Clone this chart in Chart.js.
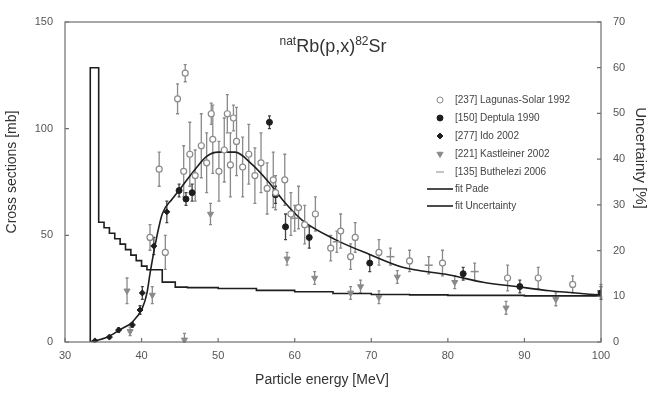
<!DOCTYPE html>
<html>
<head>
<meta charset="utf-8">
<script src="https://cdn.jsdelivr.net/npm/chart.js@4.4.1/dist/chart.umd.min.js"></script>
<style>
  html, body { margin: 0; padding: 0; background: #fff; }
  #wrap { width: 648px; height: 394px; }
</style>
</head>
<body>
<div id="wrap"><canvas id="chart" width="648" height="394"></canvas></div>
<script>
// measured points: energy [MeV], cross section [mb], error [mb]
const lagunasE = [41.1, 42.3, 43.1, 44.7, 45.7, 45.5, 46.3, 47.0, 47.8, 48.5, 49.1, 49.3, 50.1, 50.8, 51.2, 51.6, 52.0, 52.4, 53.2, 54.0, 54.8, 55.6, 56.4, 57.2, 57.5, 58.7, 59.5, 60.5, 61.3, 62.7, 64.7, 66.0, 67.3, 67.9, 71.0, 75.0, 79.3, 87.8, 91.8, 96.3];
const lagunasV = [49, 81, 42, 114, 126, 80, 88, 78, 92, 84, 107, 95, 80, 90, 107, 83, 105, 94, 82, 88, 78, 84, 72, 76, 70, 76, 60, 63, 55, 60, 44, 52, 40, 49, 42, 38, 37, 30, 30, 27];
const lagunasErr = [6, 8, 8, 7, 4, 12, 15, 12, 15, 14, 5, 16, 14, 15, 9, 15, 6, 16, 14, 14, 13, 14, 12, 13, 8, 12, 10, 10, 9, 8, 6, 8, 6, 7, 6, 5, 6, 6, 5, 4];

const deptulaE = [44.9, 45.8, 46.6, 56.7, 57.5, 58.8, 61.9, 69.8, 82.0, 89.4, 100];
const deptulaV = [71, 67, 70, 103, 69, 54, 49, 37, 32, 26, 23];
const deptulaErr = [3, 3, 4, 3, 4, 6, 5, 4, 3, 3, 3];

const idoE = [33.9, 35.8, 37.0, 38.8, 39.8, 40.1, 41.6, 43.3];
const idoV = [0.5, 2.3, 5.6, 8, 15, 23, 45, 61];
const idoErr = [0.5, 0.5, 1, 1, 2, 3, 4, 5];

const kastleinerE = [38.1, 38.5, 41.4, 45.6, 49.0, 59.0, 62.6, 67.3, 68.6, 71.0, 73.4, 80.9, 87.6, 94.1];
const kastleinerV = [24, 5, 22, 1, 60, 39, 30, 23, 26, 21, 30.5, 28, 16, 20];
const kastleinerErr = [6, 2, 4, 3, 5, 3, 3, 3, 3, 3, 3, 3, 3, 3];

const butheleziE = [60.0, 65.5, 72.5, 77.5, 83.5, 100];
const butheleziV = [58, 47, 40, 36, 33, 24];
const butheleziErr = [6, 5, 4, 4, 4, 3];

// Pade fit [mb]
const padeE = [33.3, 35.5, 37.1, 38.8, 40.1, 40.7, 41.1, 41.8, 42.7, 44.0, 45.3, 47.0, 48.5, 50.0, 52.2, 54.5, 56.7, 58.8, 61.0, 65.3, 69.8, 74.1, 80.2, 84.6, 88.9, 93.3, 100];
const padeV = [0, 2.2, 5.6, 9.4, 15.9, 22.9, 32, 46, 60, 67, 73, 81, 87, 89, 89, 83, 74.5, 65, 57, 48, 41, 35, 31.4, 28, 26, 24, 22];

// fit uncertainty [%], step histogram
const uncE = [33.3, 33.3, 34.4, 35.1, 35.8, 36.5, 37.2, 37.9, 38.6, 39.3, 40.0, 40.7, 42.7, 44.4, 46, 50, 55, 60, 65, 70, 75, 80, 90, 100];
const uncV = [0, 60, 26.2, 25.0, 23.8, 22.6, 21.4, 20.2, 19.0, 17.8, 16.6, 15.8, 13.1, 12.0, 11.9, 11.7, 11.3, 11.0, 10.6, 10.4, 10.3, 10.2, 10.1, 10.0];

const xTicks = [30, 40, 50, 60, 70, 80, 90, 100];

const pts = (xs, ys) => xs.map((x, i) => ({ x: x, y: ys[i] }));
const GRAY = '#8a8a8a';
const DARK = '#1e1e1e';
const FAMILY = '"Liberation Sans", Arial, sans-serif';

const errorBars = {
  id: 'errorBars',
  beforeDatasetsDraw(chart) {
    const ctx = chart.ctx;
    ctx.save();
    chart.data.datasets.forEach((ds, i) => {
      if (!ds.errors) return;
      const meta = chart.getDatasetMeta(i);
      const ys = chart.scales[ds.yAxisID || 'y'];
      ctx.strokeStyle = ds.errorColor || GRAY;
      ctx.lineWidth = 1.3;
      meta.data.forEach((el, j) => {
        const v = ds.data[j].y, e = ds.errors[j];
        const top = ys.getPixelForValue(v + e);
        const bot = ys.getPixelForValue(Math.max(0, v - e));
        ctx.beginPath();
        ctx.moveTo(el.x, top); ctx.lineTo(el.x, bot);
        ctx.moveTo(el.x - 1.5, top); ctx.lineTo(el.x + 1.5, top);
        ctx.moveTo(el.x - 1.5, bot); ctx.lineTo(el.x + 1.5, bot);
        ctx.stroke();
      });
    });
    ctx.restore();
  }
};

const frame = {
  id: 'frame',
  afterDraw(chart) {
    const ctx = chart.ctx, a = chart.chartArea;
    ctx.save();
    ctx.strokeStyle = '#6f6f6f';
    ctx.lineWidth = 1.2;
    ctx.strokeRect(a.left, a.top, a.right - a.left, a.bottom - a.top);
    ctx.beginPath();
    chart.scales.y2.ticks.forEach(t => {
      const y = chart.scales.y2.getPixelForValue(t.value);
      ctx.moveTo(a.right, y); ctx.lineTo(a.right - 4, y);
    });
    chart.scales.y.ticks.forEach(t => {
      const y = chart.scales.y.getPixelForValue(t.value);
      ctx.moveTo(a.left, y); ctx.lineTo(a.left + 4, y);
    });
    chart.scales.x.ticks.forEach(t => {
      const x = chart.scales.x.getPixelForValue(t.value);
      ctx.moveTo(x, a.bottom); ctx.lineTo(x, a.bottom - 4);
    });
    ctx.stroke();

    // axis titles
    ctx.fillStyle = '#333';
    ctx.font = '14px ' + FAMILY;
    ctx.textAlign = 'center';
    ctx.textBaseline = 'middle';
    ctx.fillText('Particle energy [MeV]', 322, 380);
    ctx.save();
    ctx.translate(12, 172);
    ctx.rotate(-Math.PI / 2);
    ctx.fillText('Cross sections [mb]', 0, 0);
    ctx.restore();
    ctx.save();
    ctx.translate(640, 158);
    ctx.rotate(Math.PI / 2);
    ctx.font = '15px ' + FAMILY;
    ctx.fillText('Uncertainty [%]', 0, 0);
    ctx.restore();
    ctx.restore();
  }
};

const titleText = {
  id: 'titleText',
  afterDraw(chart) {
    const ctx = chart.ctx;
    const parts = [['nat', true], ['Rb(p,x)', false], ['82', true], ['Sr', false]];
    const big = '18px ' + FAMILY;
    const small = '12px ' + FAMILY;
    ctx.save();
    ctx.fillStyle = '#333';
    ctx.textBaseline = 'alphabetic';
    let w = 0;
    parts.forEach(p => { ctx.font = p[1] ? small : big; w += ctx.measureText(p[0]).width; });
    let x = 333 - w / 2;
    const base = 52;
    parts.forEach(p => {
      ctx.font = p[1] ? small : big;
      ctx.fillText(p[0], x, p[1] ? base - 7 : base);
      x += ctx.measureText(p[0]).width;
    });
    ctx.restore();
  }
};

const insideLegend = {
  id: 'insideLegend',
  afterDraw(chart) {
    const ctx = chart.ctx, a = chart.chartArea;
    const mx = a.right - 161, tx = a.right - 146;
    const rows = [78, 96, 114, 132, 150, 167, 184];
    ctx.save();
    ctx.font = '10px ' + FAMILY;
    ctx.textBaseline = 'middle';
    chart.data.datasets.forEach((ds, i) => {
      const y = a.top + rows[i];
      ctx.strokeStyle = ds.borderColor;
      ctx.fillStyle = ds.backgroundColor;
      if (ds.showLine) {
        ctx.lineWidth = ds.borderWidth;
        ctx.beginPath(); ctx.moveTo(mx - 13, y); ctx.lineTo(mx + 13, y); ctx.stroke();
      } else {
        Chart.helpers.drawPoint(ctx, {
          pointStyle: ds.pointStyle, radius: ds.pointRadius, rotation: ds.rotation || 0,
          borderWidth: ds.borderWidth
        }, mx, y);
      }
      ctx.fillStyle = '#444';
      ctx.fillText(ds.label, tx, y);
    });
    ctx.restore();
  }
};

const axisFont = { family: FAMILY, size: 11 };

new Chart(document.getElementById('chart').getContext('2d'), {
  type: 'scatter',
  data: {
    datasets: [
      { label: '[237] Lagunas-Solar 1992', data: pts(lagunasE, lagunasV), errors: lagunasErr,
        pointStyle: 'circle', pointRadius: 3, borderColor: GRAY, backgroundColor: '#fff', borderWidth: 1.2 },
      { label: '[150] Deptula 1990', data: pts(deptulaE, deptulaV), errors: deptulaErr, errorColor: '#444',
        pointStyle: 'circle', pointRadius: 3, borderColor: DARK, backgroundColor: DARK, borderWidth: 1 },
      { label: '[277] Ido 2002', data: pts(idoE, idoV), errors: idoErr, errorColor: '#444',
        pointStyle: 'rectRot', pointRadius: 3, borderColor: DARK, backgroundColor: DARK, borderWidth: 1 },
      { label: '[221] Kastleiner 2002', data: pts(kastleinerE, kastleinerV), errors: kastleinerErr,
        pointStyle: 'triangle', rotation: 180, pointRotation: 180, pointRadius: 3.5, borderColor: GRAY, backgroundColor: GRAY, borderWidth: 1 },
      { label: '[135] Buthelezi 2006', data: pts(butheleziE, butheleziV), errors: butheleziErr,
        pointStyle: 'line', pointRadius: 4, borderColor: GRAY, backgroundColor: GRAY, borderWidth: 1.5 },
      { label: 'fit Pade', data: pts(padeE, padeV), showLine: true, pointRadius: 0,
        borderColor: DARK, backgroundColor: DARK, borderWidth: 1.6, cubicInterpolationMode: 'monotone' },
      { label: 'fit Uncertainty', data: pts(uncE, uncV), yAxisID: 'y2', showLine: true, stepped: true, pointRadius: 0,
        borderColor: DARK, backgroundColor: DARK, borderWidth: 1.6 }
    ]
  },
  options: {
    responsive: false,
    animation: false,
    layout: { padding: { top: 22, left: 0, right: 0, bottom: 0 } },
    plugins: { legend: { display: false }, tooltip: { enabled: false } },
    scales: {
      x: {
        type: 'linear', min: 30, max: 100,
        afterBuildTicks: s => { s.ticks = xTicks.map(v => ({ value: v })); },
        afterFit: s => { s.height = 52; },
        grid: { display: false, drawTicks: false }, border: { display: false },
        ticks: { color: '#555', font: axisFont, padding: 7 }
      },
      y: {
        position: 'left', min: 0, max: 150,
        afterFit: s => { s.width = 65; },
        grid: { display: false, drawTicks: false }, border: { display: false },
        ticks: { stepSize: 50, color: '#555', font: axisFont, padding: 12 }
      },
      y2: {
        position: 'right', min: 0, max: 70,
        afterFit: s => { s.width = 47; },
        grid: { display: false, drawTicks: false }, border: { display: false },
        ticks: { stepSize: 10, color: '#555', font: axisFont, padding: 12 }
      }
    }
  },
  plugins: [errorBars, frame, titleText, insideLegend]
});
</script>
</body>
</html>
